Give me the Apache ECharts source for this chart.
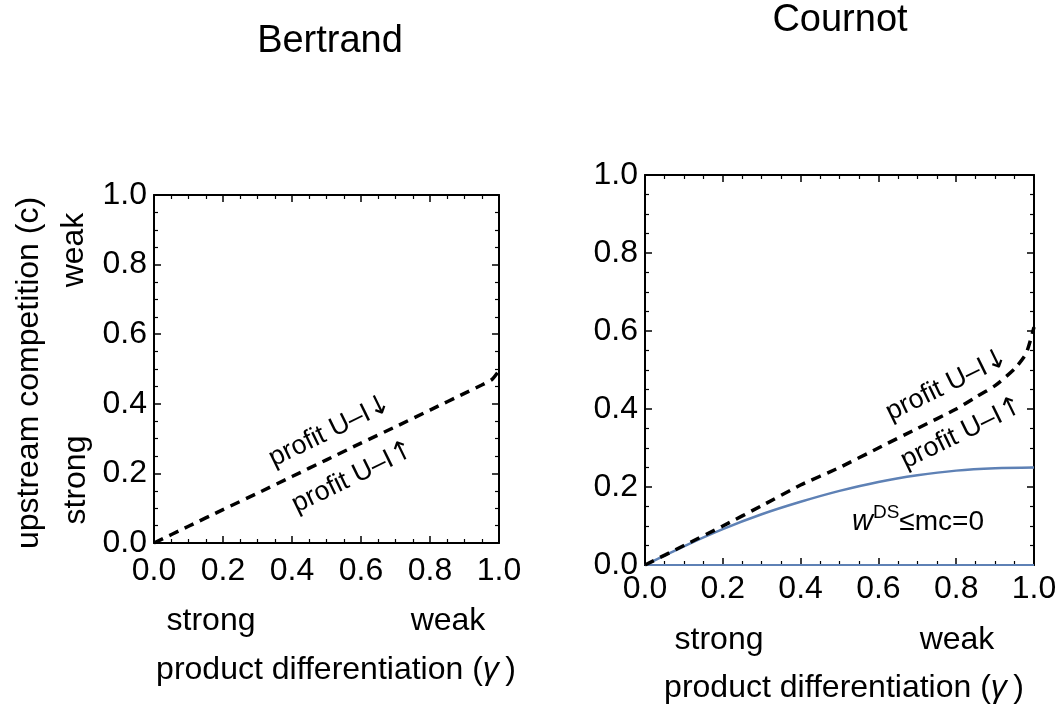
<!DOCTYPE html>
<html>
<head>
<meta charset="utf-8">
<script src="https://cdn.jsdelivr.net/npm/echarts@6/dist/echarts.min.js"></script>
<style>
html,body{margin:0;padding:0;background:#fff;}
#c{width:1060px;height:707px;}
</style>
</head>
<body>
<div id="c"></div>
<script>
// ---- data ----
const gammaBertrand = [0, 0.1, 0.2, 0.3, 0.4, 0.5, 0.6, 0.7, 0.8, 0.9, 0.95, 0.98, 1.0];
const bertrandBoundary = [0, 0.048, 0.096, 0.143, 0.191, 0.239, 0.287, 0.334, 0.382, 0.43, 0.454, 0.47, 0.495];

const gammaCournot = [0, 0.1, 0.2, 0.3, 0.4, 0.5, 0.6, 0.7, 0.8, 0.85, 0.9, 0.95, 0.98, 1.0];
const cournotBoundary = [0, 0.05, 0.1, 0.152, 0.205, 0.25, 0.3, 0.35, 0.4, 0.43, 0.46, 0.503, 0.543, 0.61];

const gammaWds = [0, 0.1, 0.2, 0.3, 0.4, 0.5, 0.6, 0.7, 0.8, 0.9, 1.0];
const wdsBoundary = [0, 0.048, 0.092, 0.13, 0.162, 0.19, 0.213, 0.23, 0.242, 0.248, 0.25];

const gammaBase = [0, 1];
const baseLine = [0, 0];

const titles = ['Bertrand', 'Cournot'];
const yAxisTitle = 'upstream competition (c)';
const xAxisTitleRich = '{n|product differentiation (}{g|\u03b3}{n|\u2009)}';
const annUpRich = '{n|profit U\u2013I}{a|\u2193}';
const annDownRich = '{n|profit U\u2013I}{a|\u2191}';

// ---- chart ----
const FONT = '"Liberation Sans", Arial, Helvetica, sans-serif';
const zip = (xs, ys) => xs.map((x, i) => [x, ys[i]]);

function axisCommon(grid, pos, showLabel, labelMargin) {
  return {
    type: 'value', gridIndex: grid, position: pos, min: 0, max: 1, interval: 0.2,
    axisLine: { show: true, onZero: false, lineStyle: { color: '#000', width: 2 } },
    axisTick: { show: true, inside: true, length: 7, lineStyle: { color: '#000', width: 1.5 } },
    minorTick: { show: true, splitNumber: 4, length: 4, lineStyle: { color: '#000', width: 1.2 } },
    splitLine: { show: false },
    axisLabel: {
      show: showLabel, color: '#000', fontSize: 32, fontFamily: FONT, margin: labelMargin,
      showMinLabel: true, showMaxLabel: true,
      formatter: v => v.toFixed(1)
    }
  };
}

const chart = echarts.init(document.getElementById('c'), null, { renderer: 'canvas' });

const txt = (x, y, text, size, rot, rich) => ({
  type: 'text', x: x, y: y, rotation: (rot || 0) * Math.PI / 180,
  style: { text: text, fontSize: size, fontFamily: FONT, fill: '#000',
    align: 'center', verticalAlign: 'middle', rich: rich }
});

const xTitleRich = {
  n: { fontSize: 32, fontFamily: FONT, fill: '#000' },
  g: { fontSize: 32, fontFamily: FONT, fontStyle: 'italic', fill: '#000' }
};
const annRich = {
  n: { fontSize: 27, fontFamily: FONT, fill: '#000' },
  a: { fontSize: 27, fontFamily: '"DejaVu Sans", sans-serif', fill: '#000' }
};

chart.setOption({
  animation: false,
  backgroundColor: '#fff',
  grid: [
    { left: 154, top: 195, width: 345, height: 348, containLabel: false, outerBoundsMode: 'none' },
    { left: 645, top: 175, width: 389, height: 390, containLabel: false, outerBoundsMode: 'none' }
  ],
  xAxis: [
    axisCommon(0, 'bottom', true, 12),
    axisCommon(0, 'top', false, 8),
    axisCommon(1, 'bottom', true, 8),
    axisCommon(1, 'top', false, 8)
  ],
  yAxis: [
    axisCommon(0, 'left', true, 7),
    axisCommon(0, 'right', false, 8),
    axisCommon(1, 'left', true, 7),
    axisCommon(1, 'right', false, 8)
  ],
  series: [
    { type: 'line', xAxisIndex: 0, yAxisIndex: 0, data: zip(gammaBertrand, bertrandBoundary),
      showSymbol: false, smooth: 0.2, lineStyle: { color: '#000', width: 3.5, type: [10, 7] }, z: 3 },
    { type: 'line', xAxisIndex: 2, yAxisIndex: 2, data: zip(gammaBase, baseLine),
      showSymbol: false, lineStyle: { color: '#5E81B5', width: 2 }, z: 1 },
    { type: 'line', xAxisIndex: 2, yAxisIndex: 2, data: zip(gammaWds, wdsBoundary),
      showSymbol: false, smooth: 0.3, lineStyle: { color: '#5E81B5', width: 2.5 }, z: 2 },
    { type: 'line', xAxisIndex: 2, yAxisIndex: 2, data: zip(gammaCournot, cournotBoundary),
      showSymbol: false, smooth: 0.2, lineStyle: { color: '#000', width: 3.5, type: [10, 7] }, z: 3 }
  ],
  graphic: [
    txt(330, 42, titles[0], 38),
    txt(840, 21, titles[1], 38),
    txt(29, 373, yAxisTitle, 32, 90),
    txt(74, 250, 'weak', 32, 90),
    txt(76, 480, 'strong', 32, 90),
    txt(211, 621, 'strong', 32),
    txt(448, 621, 'weak', 32),
    txt(336, 670, xAxisTitleRich, 32, 0, xTitleRich),
    txt(719, 640, 'strong', 32),
    txt(957, 640, 'weak', 32),
    txt(844, 688, xAxisTitleRich, 32, 0, xTitleRich),
    txt(330, 431, annUpRich, 27, 26, annRich),
    txt(353, 477, annDownRich, 27, 26, annRich),
    txt(947, 385, annUpRich, 27, 26, annRich),
    txt(962, 433, annDownRich, 27, 26, annRich),
    {
      type: 'text', x: 918, y: 520,
      style: {
        text: '{w|w}{s|DS}{n|\u2264mc=0}', align: 'center', verticalAlign: 'middle',
        fontFamily: FONT, fill: '#000',
        rich: {
          w: { fontSize: 29, fontStyle: 'italic', fontFamily: FONT, fill: '#000', verticalAlign: 'bottom' },
          s: { fontSize: 19, fontFamily: FONT, fill: '#000', verticalAlign: 'top', padding: [0, 0, 14, 0] },
          n: { fontSize: 28, fontFamily: FONT, fill: '#000', verticalAlign: 'bottom' }
        }
      }
    }
  ]
});
</script>
</body>
</html>
